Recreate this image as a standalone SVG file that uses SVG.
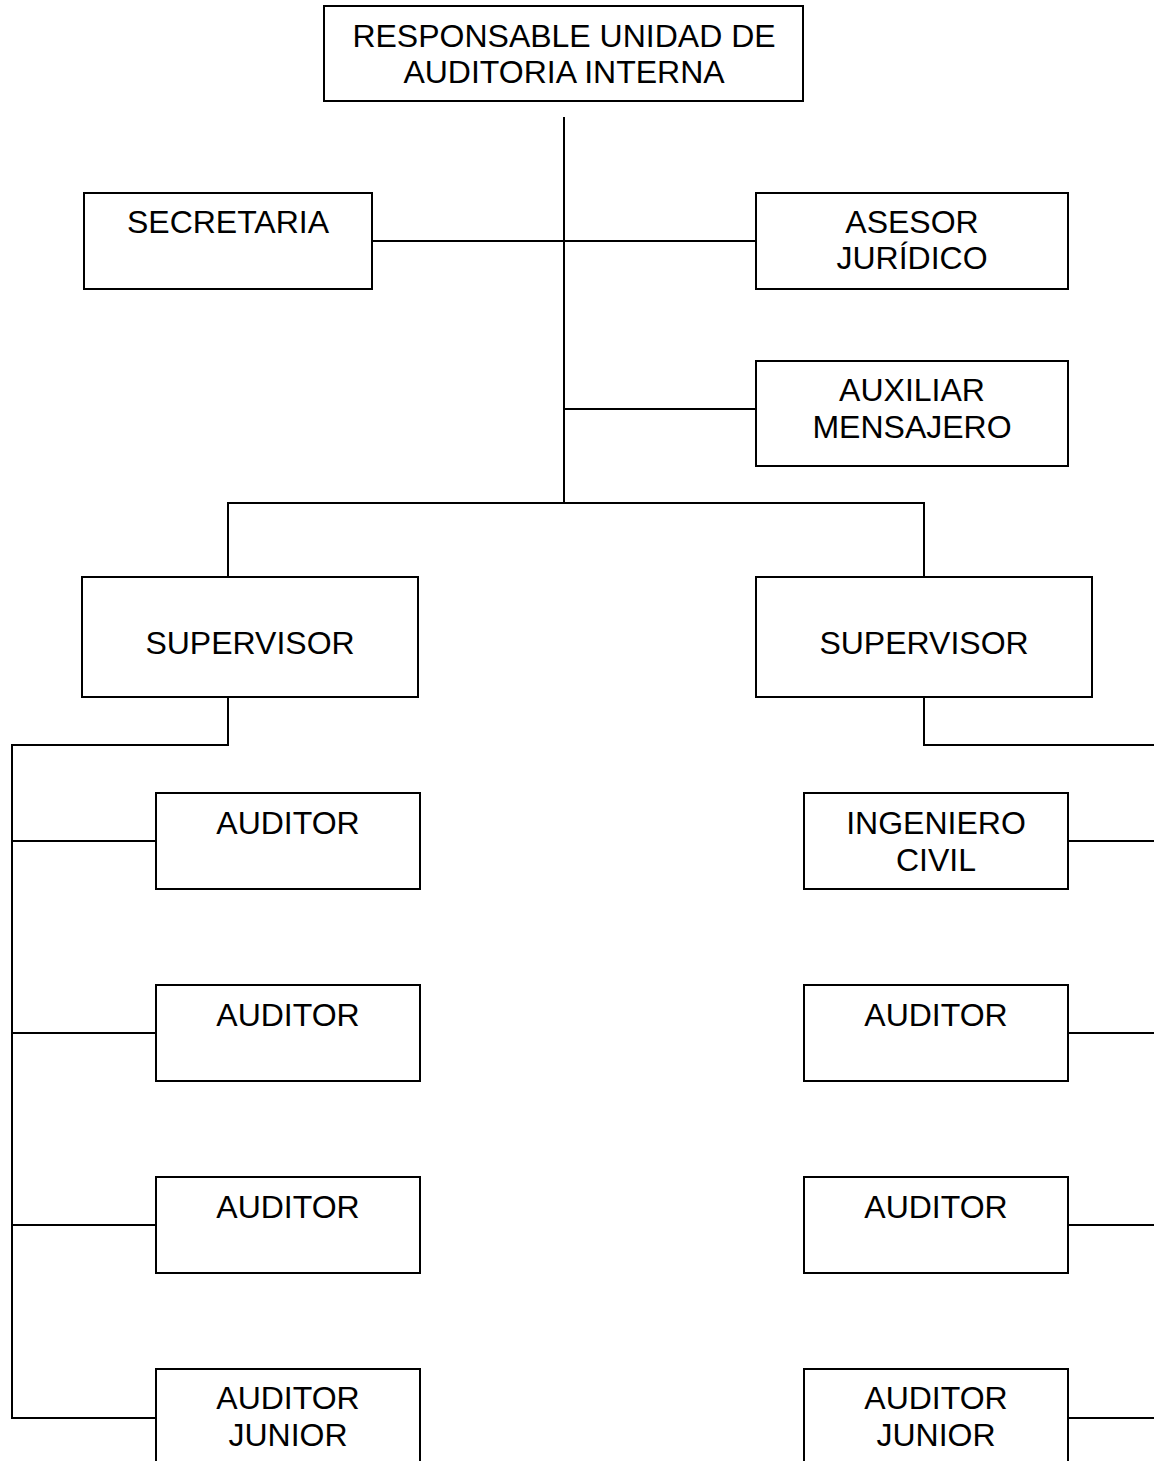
<svg xmlns="http://www.w3.org/2000/svg" width="1154" height="1461" viewBox="0 0 1154 1461">
<style>
.box{fill:#fff;stroke:#000;stroke-width:2}
.ln{fill:none;stroke:#000;stroke-width:2}
text{font-family:"Liberation Sans",Arial,sans-serif;font-size:32px;fill:#000;text-anchor:middle}
</style>
<rect width="1154" height="1461" fill="#fff"/>
<g id="connectors">
<path class="ln" d="M564 117V503"/>
<path class="ln" d="M372 241H756"/>
<path class="ln" d="M564 409H756"/>
<path class="ln" d="M228 577V503H924V577"/>
<path class="ln" d="M228 697V745H12V1418H156"/>
<path class="ln" d="M12 841H156M12 1033H156M12 1225H156"/>
<path class="ln" d="M924 697V745H1154"/>
<path class="ln" d="M1068 841H1154M1068 1033H1154M1068 1225H1154M1068 1418H1154"/>
</g>
<g id="responsable"><rect class="box" x="324" y="6" width="479" height="95"/><text x="564" y="47">RESPONSABLE UNIDAD DE</text><text x="564" y="83">AUDITORIA INTERNA</text></g>
<g id="secretaria"><rect class="box" x="84" y="193" width="288" height="96"/><text x="228" y="233">SECRETARIA</text></g>
<g id="asesor"><rect class="box" x="756" y="193" width="312" height="96"/><text x="912" y="233">ASESOR</text><text x="912" y="269">JURÍDICO</text></g>
<g id="auxiliar"><rect class="box" x="756" y="361" width="312" height="105"/><text x="912" y="401">AUXILIAR</text><text x="912" y="438">MENSAJERO</text></g>
<g id="supervisor1"><rect class="box" x="82" y="577" width="336" height="120"/><text x="250" y="654">SUPERVISOR</text></g>
<g id="supervisor2"><rect class="box" x="756" y="577" width="336" height="120"/><text x="924" y="654">SUPERVISOR</text></g>
<g id="auditor1"><rect class="box" x="156" y="793" width="264" height="96"/><text x="288" y="834">AUDITOR</text></g>
<g id="auditor2"><rect class="box" x="156" y="985" width="264" height="96"/><text x="288" y="1026">AUDITOR</text></g>
<g id="auditor3"><rect class="box" x="156" y="1177" width="264" height="96"/><text x="288" y="1218">AUDITOR</text></g>
<g id="auditorjunior1"><rect class="box" x="156" y="1369" width="264" height="100"/><text x="288" y="1409">AUDITOR</text><text x="288" y="1446">JUNIOR</text></g>
<g id="ingeniero"><rect class="box" x="804" y="793" width="264" height="96"/><text x="936" y="834">INGENIERO</text><text x="936" y="871">CIVIL</text></g>
<g id="auditor4"><rect class="box" x="804" y="985" width="264" height="96"/><text x="936" y="1026">AUDITOR</text></g>
<g id="auditor5"><rect class="box" x="804" y="1177" width="264" height="96"/><text x="936" y="1218">AUDITOR</text></g>
<g id="auditorjunior2"><rect class="box" x="804" y="1369" width="264" height="100"/><text x="936" y="1409">AUDITOR</text><text x="936" y="1446">JUNIOR</text></g>
</svg>
